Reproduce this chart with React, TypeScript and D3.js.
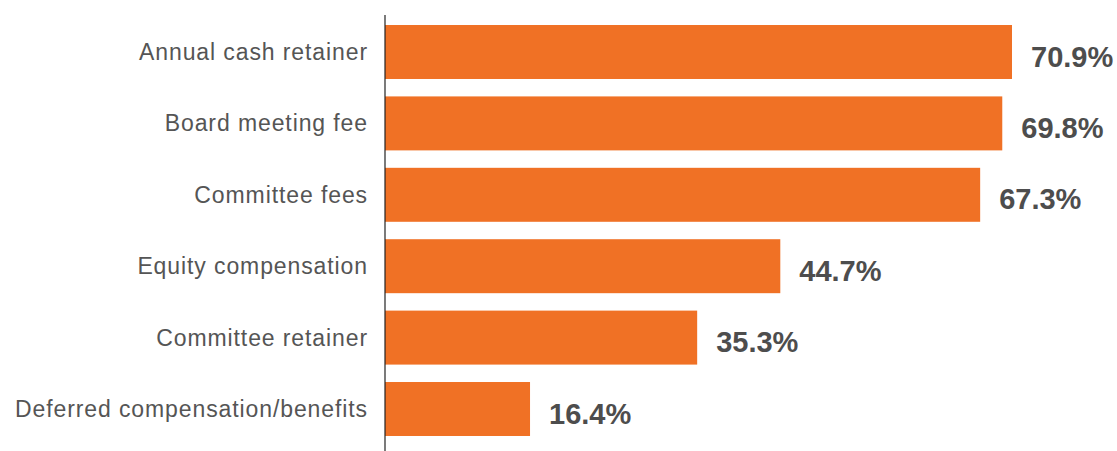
import React, { useRef, useEffect } from "react";
import * as d3 from "d3";

const categories = [
  "Annual cash retainer",
  "Board meeting fee",
  "Committee fees",
  "Equity compensation",
  "Committee retainer",
  "Deferred compensation/benefits",
];
const values = [70.9, 69.8, 67.3, 44.7, 35.3, 16.4];
const valueLabels = ["70.9%", "69.8%", "67.3%", "44.7%", "35.3%", "16.4%"];

const App = () => {
  const ref = useRef<SVGSVGElement>(null);

  useEffect(() => {
    const width = 1117;
    const height = 451;
    const svg = d3.select(ref.current);
    svg.selectAll("*").remove();
    svg.attr("width", width).attr("height", height);

    const x = d3.scaleLinear().domain([0, 70.9]).range([385, 1012]);
    const y = d3
      .scaleBand<string>()
      .domain(categories)
      .range([16.3, 444.7])
      .paddingInner(0.244)
      .paddingOuter(0.122);

    const rows = categories.map((c, i) => ({ name: c, value: values[i], label: valueLabels[i] }));

    svg
      .selectAll("rect.bar")
      .data(rows)
      .enter()
      .append("rect")
      .attr("class", "bar")
      .attr("x", x(0))
      .attr("y", (d) => y(d.name)!)
      .attr("width", (d) => x(d.value) - x(0))
      .attr("height", y.bandwidth())
      .attr("fill", "#F07125");

    svg
      .append("line")
      .attr("x1", x(0))
      .attr("x2", x(0))
      .attr("y1", 15)
      .attr("y2", height)
      .attr("stroke", "#222")
      .attr("stroke-width", 1.2);

    // category labels, right aligned against the axis
    svg
      .selectAll("text.cat")
      .data(rows)
      .enter()
      .append("text")
      .attr("class", "cat")
      .attr("x", 368)
      .attr("y", (d) => y(d.name)! + y.bandwidth() / 2)
      .attr("dy", "0.35em")
      .attr("text-anchor", "end")
      .style("font-family", "'Liberation Sans', Arial, sans-serif")
      .style("font-size", "23px")
      .style("letter-spacing", "0.9px")
      .style("fill", "#555")
      .text((d) => d.name);

    svg
      .selectAll("text.val")
      .data(rows)
      .enter()
      .append("text")
      .attr("class", "val")
      .attr("x", (d) => x(d.value) + 19)
      .attr("y", (d) => y(d.name)! + y.bandwidth() / 2)
      .attr("dy", "0.5em")
      .style("font-family", "'Liberation Sans', Arial, sans-serif")
      .style("font-size", "29px")
      .style("font-weight", "bold")
      .style("fill", "#4d4d4d")
      .text((d) => d.label);
  }, []);

  return <svg ref={ref} style={{ position: "absolute", left: 0, top: 0 }}></svg>;
};

export default App;
